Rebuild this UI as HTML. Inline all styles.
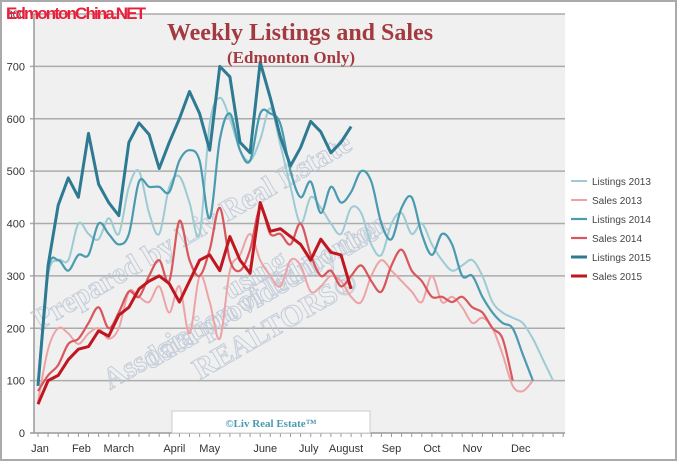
<!DOCTYPE html>
<html><head><meta charset="utf-8"><style>
body{margin:0;background:#fff;}
svg{display:block;font-family:"Liberation Sans",sans-serif;}
</style></head><body>
<svg id="chart" width="677" height="461">
<rect x="1" y="1" width="675" height="459" fill="#fff" stroke="#aaa" stroke-width="2"/>
<rect x="34" y="14" width="531" height="419" fill="#f0f0f0"/>
<g id="grid"></g>
<g id="wm" fill="none" stroke="#b8c4d4" stroke-width="1" font-family="Liberation Serif,serif" font-weight="bold" font-size="30" opacity="0.8">
<text x="40" y="330" transform="rotate(-30 40 330)">Prepared by Liv Real Estate</text>
<text x="230" y="300" transform="rotate(-30 230 300)">using</text>
<text x="150" y="370" transform="rotate(-30 150 370)">data provided by the</text>
<text x="200" y="380" transform="rotate(-30 200 380)">REALTORS®</text>
<text x="110" y="390" transform="rotate(-30 110 390)">Association of Edmonton</text>
</g>
<g id="series"></g>
<rect x="172" y="411" width="198" height="22" fill="#fff" stroke="#ccc"/>
<text x="271" y="427" text-anchor="middle" font-family="Liberation Serif,serif" font-weight="bold" font-size="11" fill="#4a9bb0">©Liv Real Estate™</text>
<text x="300" y="40" text-anchor="middle" font-family="Liberation Serif,serif" font-weight="bold" font-size="24" fill="#a33a3f">Weekly Listings and Sales</text>
<text x="291" y="63" text-anchor="middle" font-family="Liberation Serif,serif" font-weight="bold" font-size="17" fill="#a33a3f">(Edmonton Only)</text>
<text x="6" y="19" font-family="Liberation Sans Narrow,Liberation Sans,sans-serif" font-weight="bold" font-size="17" fill="#e8203a" textLength="140">EdmontonChina.NET</text>
<g id="legend"></g>
</svg>
<script>
const yTicks=[0,100,200,300,400,500,600,700,800];
const months=["Jan","Feb","March","April","May","June","July","August","Sep","Oct","Nov","Dec"];
const monthWeeks=[0.2,4.3,8,13.5,17,22.5,26.8,30.5,35,39,43,47.8];
const seriesNames=["Listings 2013","Sales 2013","Listings 2014","Sales 2014","Listings 2015","Sales 2015"];
const listings2013=[90,300,330,330,400,380,370,410,380,470,500,420,380,470,490,440,380,590,640,600,540,520,560,620,550,470,400,450,430,400,380,430,420,360,340,400,420,380,400,360,330,310,320,330,300,250,230,220,210,180,140,100];
const sales2013=[60,160,200,190,170,190,200,180,200,270,260,250,280,230,280,190,300,250,180,310,340,380,330,300,280,330,320,270,280,300,290,260,250,300,330,310,290,270,250,300,250,260,240,210,220,200,150,90,80,100];
const listings2014=[90,310,330,310,340,340,400,380,360,380,480,470,470,460,520,540,520,410,560,610,540,520,610,610,590,500,450,480,420,470,440,460,500,480,400,370,430,450,380,340,380,360,300,300,260,230,210,200,150,100];
const sales2014=[80,110,130,170,180,210,240,200,230,270,260,300,330,290,405,330,300,350,430,330,310,350,430,380,380,360,400,340,300,310,280,300,320,290,270,320,350,310,290,260,260,250,260,240,230,200,180,100];
const listings2015=[90,320,435,487,450,572,475,440,415,555,592,570,505,555,600,652,610,540,700,680,555,535,708,640,565,510,545,595,575,535,555,585];
const sales2015=[55,100,110,140,160,165,195,185,225,240,275,290,300,285,250,290,330,340,310,375,330,305,440,385,390,375,360,330,370,345,340,275];
const allSeries=[listings2013,sales2013,listings2014,sales2014,listings2015,sales2015];
const colors=["#9ccbd3","#eda3a6","#4a9bb0","#d9575c","#2e7a92","#c0161f"];
const widths=[2,2,2.2,2.2,3,3];
const smooth=[true,true,true,true,false,false];
const NS="http://www.w3.org/2000/svg";
const x0=38,dx=10.1,yb=433,yt=14,ymax=800;
const X=i=>x0+i*dx;
const Y=v=>yb-(v/ymax)*(yb-yt);
function mk(tag,attrs,parent){const e=document.createElementNS(NS,tag);for(const k in attrs)e.setAttribute(k,attrs[k]);parent.appendChild(e);return e;}
const grid=document.getElementById('grid');
yTicks.forEach(t=>{
 const l=mk('line',{x1:30,x2:565,y1:Y(t),y2:Y(t),stroke:t===0?'#999':'#ababab','stroke-width':1.5},grid);
 
 
 const tx=mk('text',{x:25,y:Y(t)+4,'text-anchor':'end','font-size':11,fill:'#333'},grid);
 tx.textContent=t;
 
 
});
const ax=mk('line',{x1:34,x2:34,y1:yt,y2:yb,stroke:'#999','stroke-width':1.5},grid);


for(let i=0;i<=52;i++){const t=mk('line',{x1:X(i),x2:X(i),y1:yb,y2:yb+4,stroke:'#999'},grid);
 
 }
months.forEach((m,k)=>{
 const t=mk('text',{x:X(monthWeeks[k]),y:452,'text-anchor':'middle','font-size':11,fill:'#333'},grid);
 t.textContent=m;
 
 
});
function pathFor(arr,sm){
 const p=arr.map((v,i)=>[X(i),Y(v)]);
 let d='M'+p[0][0]+','+p[0][1];
 for(let i=1;i<p.length;i++){
  if(!sm){d+=' L'+p[i][0]+','+p[i][1];continue;}
  const a=p[i-2]||p[i-1],b=p[i-1],c=p[i],e=p[i+1]||c;
  d+=' C'+(b[0]+(c[0]-a[0])/6)+','+(b[1]+(c[1]-a[1])/6)+' '+(c[0]-(e[0]-b[0])/6)+','+(c[1]-(e[1]-b[1])/6)+' '+c[0]+','+c[1];
 }
 return d;
}
const sg=document.getElementById('series');
allSeries.forEach((arr,s)=>{
 const p=mk('path',{d:pathFor(arr,smooth[s]),fill:'none',stroke:colors[s],'stroke-width':widths[s],'stroke-linejoin':'round'},sg);
 
 
});
const lg=document.getElementById('legend');
seriesNames.forEach((n,s)=>{
 const y=181+s*19;
 const g=mk('g',{},lg);
 
 
 mk('line',{x1:571,x2:587,y1:y,y2:y,stroke:colors[s],'stroke-width':widths[s]},g);
 const t=mk('text',{x:592,y:y+4,'font-size':10,fill:'#444'},g);
 t.textContent=n;
});
</script>
</body></html>
